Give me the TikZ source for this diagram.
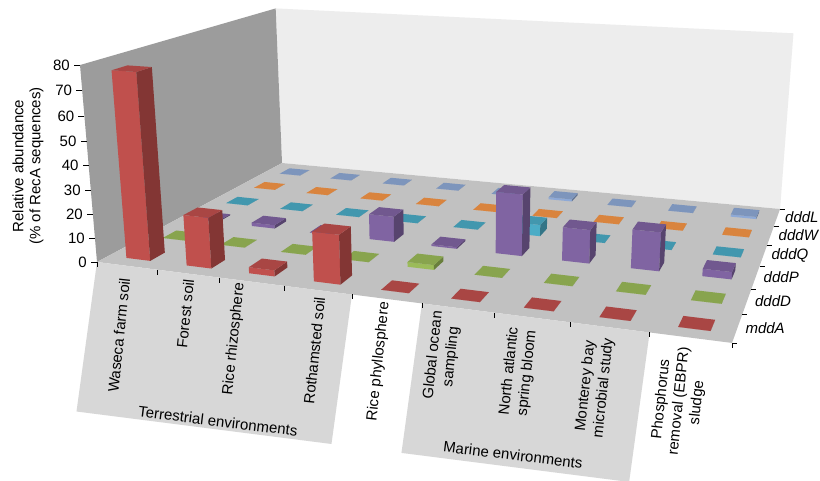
\documentclass[tikz,border=0pt]{standalone}
\usepackage{fontspec}
\setmainfont{Liberation Sans}
\usetikzlibrary{calc}
\definecolor{cmdda}{HTML}{C0504D}
\definecolor{cdddd}{HTML}{9BBB59}
\definecolor{cdddp}{HTML}{8064A2}
\definecolor{cdddq}{HTML}{4BACC6}
\definecolor{cdddw}{HTML}{F79646}
\definecolor{cdddl}{HTML}{8EA9D6}
\definecolor{wallgray}{HTML}{9C9C9C}
\definecolor{backgray}{HTML}{EDEDED}
\definecolor{floorgray}{HTML}{C1C1C1}
\definecolor{panelgray}{HTML}{D7D7D7}
\tikzset{
  backwall/.style={fill=backgray},
  sidewall/.style={fill=wallgray},
  floorface/.style={fill=floorgray},
  panel/.style={fill=panelgray},
  tickmark/.style={draw=black, line width=0.8pt},
  lab/.style={font=\fontsize{15}{18}\selectfont, inner sep=0pt},
  ticklab/.style={lab, anchor=east},
  collab/.style={lab, rotate=84, anchor=east, align=center},
  grouplab/.style={lab, rotate=-7},
  rowlab/.style={lab, font=\fontsize{15}{18}\selectfont\itshape, anchor=west},
  ytitle/.style={lab, rotate=90, align=center, font=\fontsize{15}{17}\selectfont}
}
% one bar of the 3D chart: column, row, value, colour
\newcommand{\cell}[4]{%
  \pgfmathsetmacro\ua{(#1+0.3)/9}\pgfmathsetmacro\ub{(#1+0.7)/9}%
  \pgfmathsetmacro\va{(#2+0.3)/6}\pgfmathsetmacro\vb{(#2+0.7)/6}%
  \pgfmathsetmacro\hh{#3/80}%
  \coordinate (p1) at ({px(\ua,\va,0)},{py(\ua,\va,0)});
  \coordinate (p2) at ({px(\ub,\va,0)},{py(\ub,\va,0)});
  \coordinate (p3) at ({px(\ub,\vb,0)},{py(\ub,\vb,0)});
  \coordinate (q1) at ({px(\ua,\va,\hh)},{py(\ua,\va,\hh)});
  \coordinate (q2) at ({px(\ub,\va,\hh)},{py(\ub,\va,\hh)});
  \coordinate (q3) at ({px(\ub,\vb,\hh)},{py(\ub,\vb,\hh)});
  \coordinate (q4) at ({px(\ua,\vb,\hh)},{py(\ua,\vb,\hh)});
  \fill[#4] (p1) -- (p2) -- (q2) -- (q1) -- cycle;
  \fill[#4!68!black] (p2) -- (p3) -- (q3) -- (q2) -- cycle;
  \fill[#4!88!black] (q1) -- (q2) -- (q3) -- (q4) -- cycle;
}

\begin{document}
\begin{tikzpicture}[x=1pt, y=-1pt,
  declare function={
    ww(\x,\y,\z)=1-0.1614*\x+0.2907*\y-0.045*\z;
    px(\x,\y,\z)=(516.9*\x+267.0*\y-20.6*\z+97)/ww(\x,\y,\z);
    py(\x,\y,\z)=(25.6*\x-51.6*\y-199.9*\z+262)/ww(\x,\y,\z);
  }]
  \useasboundingbox (0,0) rectangle (820,481);
  \fill[white] (0,0) rectangle (820,481);

  % walls and floor
  \coordinate (fl) at ({px(0,0,0)},{py(0,0,0)});
  \coordinate (fr) at ({px(1,0,0)},{py(1,0,0)});
  \coordinate (br) at ({px(1,1,0)},{py(1,1,0)});
  \coordinate (bl) at ({px(0,1,0)},{py(0,1,0)});
  \coordinate (tl) at ({px(0,0,1)},{py(0,0,1)});
  \coordinate (tbl) at ({px(0,1,1)},{py(0,1,1)});
  \coordinate (tbr) at ({px(1,1,1)},{py(1,1,1)});
  \fill[backwall] (bl) -- (br) -- (tbr) -- (tbl) -- cycle;
  \fill[sidewall] (fl) -- (bl) -- (tbl) -- (tl) -- cycle;
  \fill[floorface] (fl) -- (fr) -- (br) -- (bl) -- cycle;

  % group panels under the front edge
  \foreach \i in {0,...,9}
    \coordinate (e\i) at ({px(\i/9,0,0)},{py(\i/9,0,0)});
  \fill[panel] (e0) -- (e4) -- ($(e4)+(-20.5,149.5)$) -- ($(e0)+(-20.5,149.5)$) -- cycle;
  \fill[panel] (e5) -- (e8) -- ($(e8)+(-20.5,149.5)$) -- ($(e5)+(-20.5,149.5)$) -- cycle;

  % bars, back row first
  \foreach \val [count=\col from 0] in {0,0,0,0,0,1,0,0,1} {\cell{\col}{5}{\val}{cdddl}}
  \foreach \val [count=\col from 0] in {0,0,0,0,0,0,0,0,0} {\cell{\col}{4}{\val}{cdddw}}
  \foreach \val [count=\col from 0] in {0,0,0,0,0,5,0,0,0} {\cell{\col}{3}{\val}{cdddq}}
  \foreach \val [count=\col from 0] in {0.5,1.5,0,11,0.7,26,14,16,3} {\cell{\col}{2}{\val}{cdddp}}
  \foreach \val [count=\col from 0] in {0,0,0,0,2,0,0,0,0} {\cell{\col}{1}{\val}{cdddd}}
  \foreach \val [count=\col from 0] in {77,21,2.5,20,0,0,0,0,0} {\cell{\col}{0}{\val}{cmdda}}

  % axes ticks and labels
  \foreach \i in {0,...,9}
    \draw[tickmark] (e\i) -- ++(0,5);
  \foreach \k in {0,...,8} {
    \coordinate (z\k) at ({px(0,0,\k/8)},{py(0,0,\k/8)});
    \draw[tickmark] (z\k) -- ++(-6,0);
    \pgfmathtruncatemacro\lbl{10*\k}
    \node[ticklab] (yl\k) at ($(z\k)+(-10,0)$) {\lbl};
  }
  \foreach \nm [count=\j from 0] in {mddA,dddD,dddP,dddQ,dddW,dddL} {
    \coordinate (rc\j) at ({px(1,(\j+0.5)/6,0)},{py(1,(\j+0.5)/6,0)});
    \node[rowlab] (rl\j) at ($(rc\j)+(8,0)$) {\nm};
  }
  \foreach \j in {0,...,6} {
    \coordinate (r\j) at ({px(1,\j/6,0)},{py(1,\j/6,0)});
    \draw[tickmark] (r\j) -- ++(5,0);
  }

  \node[ytitle] (ytit) at (28,166) {Relative abundance\\(\% of RecA sequences)};

  % column labels
  \node[collab] (waseca) at (125,278) {Waseca farm soil};
  \node[collab] (forest) at (189,279) {Forest soil};
  \node[collab] (rhizo) at (240,283) {Rice rhizosphere};
  \node[collab] (roth) at (320,297) {Rothamsted soil};
  \node[collab] (phyllo) at (385,302) {Rice phyllosphere};
  \node[collab] (gos) at (447,312) {Global ocean\\sampling};
  \node[collab] (natl) at (523,328) {North atlantic\\spring bloom};
  \node[collab] (monterey) at (600,337) {Monterey bay\\microbial study};
  \node[collab] (ebpr) at (685,347) {Phosphorus\\removal (EBPR)\\sludge};

  \node[grouplab] (terr) at (218,421) {Terrestrial environments};
  \node[grouplab] (marine) at (513,455) {Marine environments};
\end{tikzpicture}
\end{document}
